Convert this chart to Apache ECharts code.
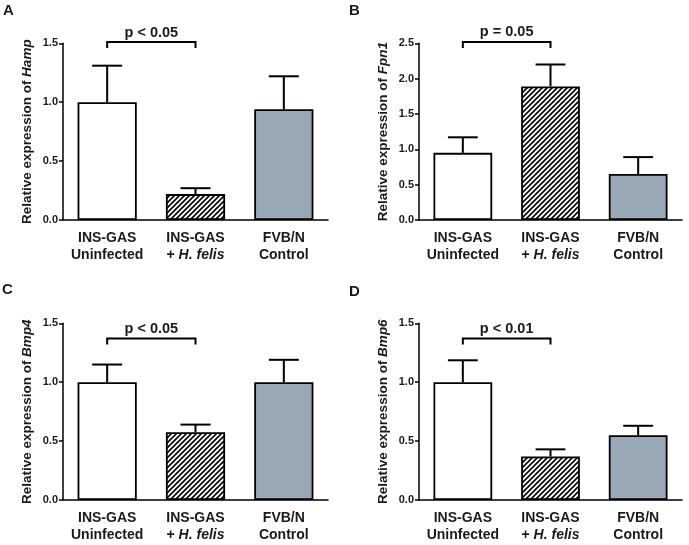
<!DOCTYPE html>
<html>
<head>
<meta charset="utf-8">
<script src="https://cdn.jsdelivr.net/npm/echarts@6/dist/echarts.min.js"></script>
<style>html,body{margin:0;padding:0;background:#fff}#c{width:689px;height:545px}</style>
</head>
<body>
<div id="c"></div>
<script>
// ---- data ----
const categories = ['INS-GAS|Uninfected', 'INS-GAS|+ H. felis', 'FVB/N|Control'];
const panelLetters = ['A', 'B', 'C', 'D'];
const genes = ['Hamp', 'Fpn1', 'Bmp4', 'Bmp6'];
const yMax = [1.5, 2.5, 1.5, 1.5];
const yInterval = [0.5, 0.5, 0.5, 0.5];
const meansA = [1.0, 0.22, 0.94];
const semA = [0.31, 0.05, 0.28];
const meansB = [0.95, 1.89, 0.65];
const semB = [0.22, 0.31, 0.24];
const meansC = [1.0, 0.575, 1.0];
const semC = [0.15, 0.065, 0.19];
const meansD = [1.0, 0.37, 0.55];
const semD = [0.186, 0.06, 0.08];
const pLabels = ['p < 0.05', 'p = 0.05', 'p < 0.05', 'p < 0.01'];
const bracketLevel = [1.51, 2.52, 1.37, 1.37];

const means = [meansA, meansB, meansC, meansD];
const sems = [semA, semB, semC, semD];

// ---- styles ----
const FONT = 'Arial, "Liberation Sans", sans-serif';
const TXT = '#1a1a1a';
const grey = '#9aa8b6';

function hatch() {
  const p = 5;
  const c = document.createElement('canvas');
  c.width = p; c.height = p;
  const g = c.getContext('2d');
  g.fillStyle = '#fff'; g.fillRect(0, 0, p, p);
  g.strokeStyle = '#000'; g.lineWidth = 1.6;
  g.beginPath();
  g.moveTo(-1, p + 1); g.lineTo(p + 1, -1);
  g.moveTo(-1, 1); g.lineTo(1, -1);
  g.moveTo(p - 1, p + 1); g.lineTo(p + 1, p - 1);
  g.stroke();
  return c;
}
const hatchPattern = { image: hatch(), repeat: 'repeat' };
const barFills = ['#ffffff', hatchPattern, grey];

const grids = [
  { left: 63, top: 43.3, width: 265, height: 176.7 },
  { left: 419, top: 43.3, width: 263, height: 176.7 },
  { left: 63, top: 323.3, width: 265, height: 176.7 },
  { left: 419, top: 323.3, width: 263, height: 176.7 }
];
const letterPos = [[3, 3], [349, 3], [2, 282], [349, 284]];

const option = {
  animation: false,
  backgroundColor: '#fff',
  title: panelLetters.map((l, i) => ({
    text: l, left: letterPos[i][0], top: letterPos[i][1], padding: 0,
    textStyle: { fontFamily: FONT, fontWeight: 'bold', fontSize: 15, color: TXT }
  })),
  grid: grids,
  xAxis: grids.map((g, i) => ({
    type: 'category', gridIndex: i, data: categories,
    axisLine: { lineStyle: { color: '#000', width: 1.5 } },
    axisTick: { alignWithLabel: true, length: 4, lineStyle: { color: '#000', width: 1.5 } },
    axisLabel: {
      margin: 10, interval: 0,
      formatter: function (v) {
        const parts = v.split('|');
        let second = parts[1];
        if (second.indexOf('H. felis') >= 0) {
          second = '{b|+ }{i|H. felis}';
        } else {
          second = '{b|' + second + '}';
        }
        return '{b|' + parts[0] + '}\n' + second;
      },
      rich: {
        b: { fontFamily: FONT, fontWeight: 'bold', fontSize: 14, color: TXT, lineHeight: 17 },
        i: { fontFamily: FONT, fontWeight: 'bold', fontStyle: 'italic', fontSize: 14, color: TXT, lineHeight: 17 }
      }
    }
  })),
  yAxis: grids.map((g, i) => ({
    type: 'value', gridIndex: i, min: 0, max: yMax[i], interval: yInterval[i],
    name: '{b|Relative expression of }{i|' + genes[i] + '}',
    nameLocation: 'middle', nameRotate: 90, nameGap: 29,
    nameTextStyle: {
      rich: {
        b: { fontFamily: FONT, fontWeight: 'bold', fontSize: 13.5, color: TXT },
        i: { fontFamily: FONT, fontWeight: 'bold', fontStyle: 'italic', fontSize: 13.5, color: TXT }
      }
    },
    axisLine: { show: true, lineStyle: { color: '#000', width: 1.5 } },
    axisTick: { show: true, length: 4, lineStyle: { color: '#000', width: 1.5 } },
    axisLabel: {
      margin: 5, fontFamily: FONT, fontWeight: 'bold', fontSize: 11, color: TXT,
      formatter: v => v.toFixed(1)
    },
    splitLine: { show: false }
  })),
  series: []
};

for (let i = 0; i < 4; i++) {
  option.series.push({
    type: 'bar', xAxisIndex: i, yAxisIndex: i, barCategoryGap: '33%', z: 2,
    data: means[i].map((v, k) => ({
      value: v,
      itemStyle: { color: barFills[k], borderColor: '#000', borderWidth: 1.8 }
    }))
  });
  option.series.push({
    type: 'custom', xAxisIndex: i, yAxisIndex: i, z: 1,
    data: means[i].map((v, k) => [k, v, v + sems[i][k]]),
    renderItem: function (params, api) {
      const base = api.coord([api.value(0), api.value(1)]);
      const top = api.coord([api.value(0), api.value(2)]);
      const hw = api.size([1, 0])[0] * 0.17;
      const st = { stroke: '#000', lineWidth: 2, fill: null };
      return {
        type: 'group',
        children: [
          { type: 'line', shape: { x1: base[0], y1: base[1], x2: top[0], y2: top[1] }, style: st },
          { type: 'line', shape: { x1: top[0] - hw, y1: top[1], x2: top[0] + hw, y2: top[1] }, style: st }
        ]
      };
    }
  });
  option.series.push({
    type: 'custom', xAxisIndex: i, yAxisIndex: i, z: 3, clip: false,
    data: [[0, 1, bracketLevel[i]]],
    renderItem: (function (label) {
      return function (params, api) {
        const a = api.coord([api.value(0), api.value(2)]);
        const b = api.coord([api.value(1), api.value(2)]);
        const st = { stroke: '#000', lineWidth: 2, fill: null };
        const leg = 6;
        return {
          type: 'group',
          children: [
            { type: 'polyline', shape: { points: [[a[0], a[1] + leg], [a[0], a[1]], [b[0], b[1]], [b[0], b[1] + leg]] }, style: st },
            { type: 'text', style: {
                text: label, x: (a[0] + b[0]) / 2, y: a[1] - 2,
                align: 'center', verticalAlign: 'bottom',
                font: 'bold 14.5px ' + FONT, fill: TXT
              } }
          ]
        };
      };
    })(pLabels[i])
  });
}

const chart = echarts.init(document.getElementById('c'), null, { renderer: 'canvas' });
chart.setOption(option);
</script>
</body>
</html>
